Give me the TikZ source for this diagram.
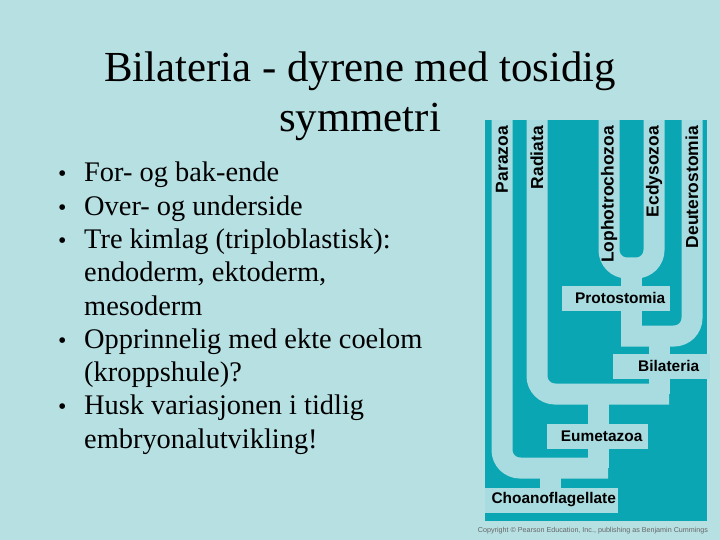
\documentclass[tikz,border=0pt]{standalone}
\usepackage{fontspec}
\setmainfont{Liberation Serif}
\setsansfont{Liberation Sans}
\definecolor{bgblue}{HTML}{B7E0E3}
\definecolor{panel}{HTML}{0BA6B3}
\definecolor{branch}{HTML}{A9DCE0}
\tikzset{
  clade/.style={draw=branch, line width=21bp, rounded corners=18bp, line cap=butt},
  tag/.style={fill=branch, font=\sffamily\bfseries\fontsize{15.5}{16}\selectfont, inner sep=0pt, minimum height=25bp, anchor=west},
  taxon/.style={font=\sffamily\bfseries\fontsize{17.5}{18}\selectfont, rotate=90, anchor=east, inner sep=0pt}
}
\newcommand{\bul}{\makebox[26bp][l]{\fontsize{24}{24}\selectfont\textbullet}}
\begin{document}
\begin{tikzpicture}[x=1bp, y=-1bp]
            \fill [bgblue] (0,0) rectangle (720,540);
            \useasboundingbox (0,0) rectangle (720,540);
            % title and bullets
            \node (title) [align=center, font=\fontsize{43}{50}\selectfont] at (360,96) {Bilateria - dyrene med tosidig\\symmetri};
            \node (list) [anchor=north west, align=left, font=\fontsize{28.5}{33.4}\selectfont, inner sep=0pt] at (58,162) {%
              \bul For- og bak-ende\\
              \bul Over- og underside\\
              \bul Tre kimlag (triploblastisk):\\
              \hspace{26bp}endoderm, ektoderm,\\
              \hspace{26bp}mesoderm\\
              \bul Opprinnelig med ekte coelom\\
              \hspace{26bp}(kroppshule)?\\
              \bul Husk variasjonen i tidlig\\
              \hspace{26bp}embryonalutvikling!};
            % tree panel
            \fill [panel] (485,120) rectangle (707,521);
            \draw [clade] (609,120) -- (609,268) -- (654,268) -- (654,120);
            \draw [clade, rounded corners=0] (631,262) -- (631,336);
            \draw [clade] (692,120) -- (692,336) -- (621,336);
            \draw [clade, rounded corners=0] (659,330) -- (659,394);
            \draw [clade] (537,120) -- (537,394) -- (669,394);
            \draw [clade, rounded corners=0] (598,388) -- (598,468);
            \draw [clade] (502,120) -- (502,468) -- (608,468);
            \draw [clade, rounded corners=0] (550,462) -- (550,500);
            \node (proto) [tag, minimum width=108bp] at (562,298) {\hspace{8bp}Protostomia\hfill};
            \node (bila) [tag, minimum width=97bp] at (613,366) {\hspace{14bp}Bilateria\hfill};
            \node (eume) [tag, minimum width=101bp] at (547,436) {\hspace{8bp}Eumetazoa\hfill};
            \node (choano) [tag, minimum width=133bp] at (485,500) {\hspace{4bp}Choanoflagellate\hfill};
            \node (para) [taxon] at (502,126) {Parazoa};
            \node (radi) [taxon] at (537,126) {Radiata};
            \node (lopho) [taxon] at (609,126) {Lophotrochozoa};
            \node (ecdy) [taxon] at (654,126) {Ecdysozoa};
            \node (deut) [taxon] at (692,126) {Deuterostomia};
            \node (copy) [font=\sffamily\fontsize{7.2}{8}\selectfont, text=black!60] at (593,531) {Copyright \textcopyright\ Pearson Education, Inc., publishing as Benjamin Cummings};
\end{tikzpicture}
\end{document}
